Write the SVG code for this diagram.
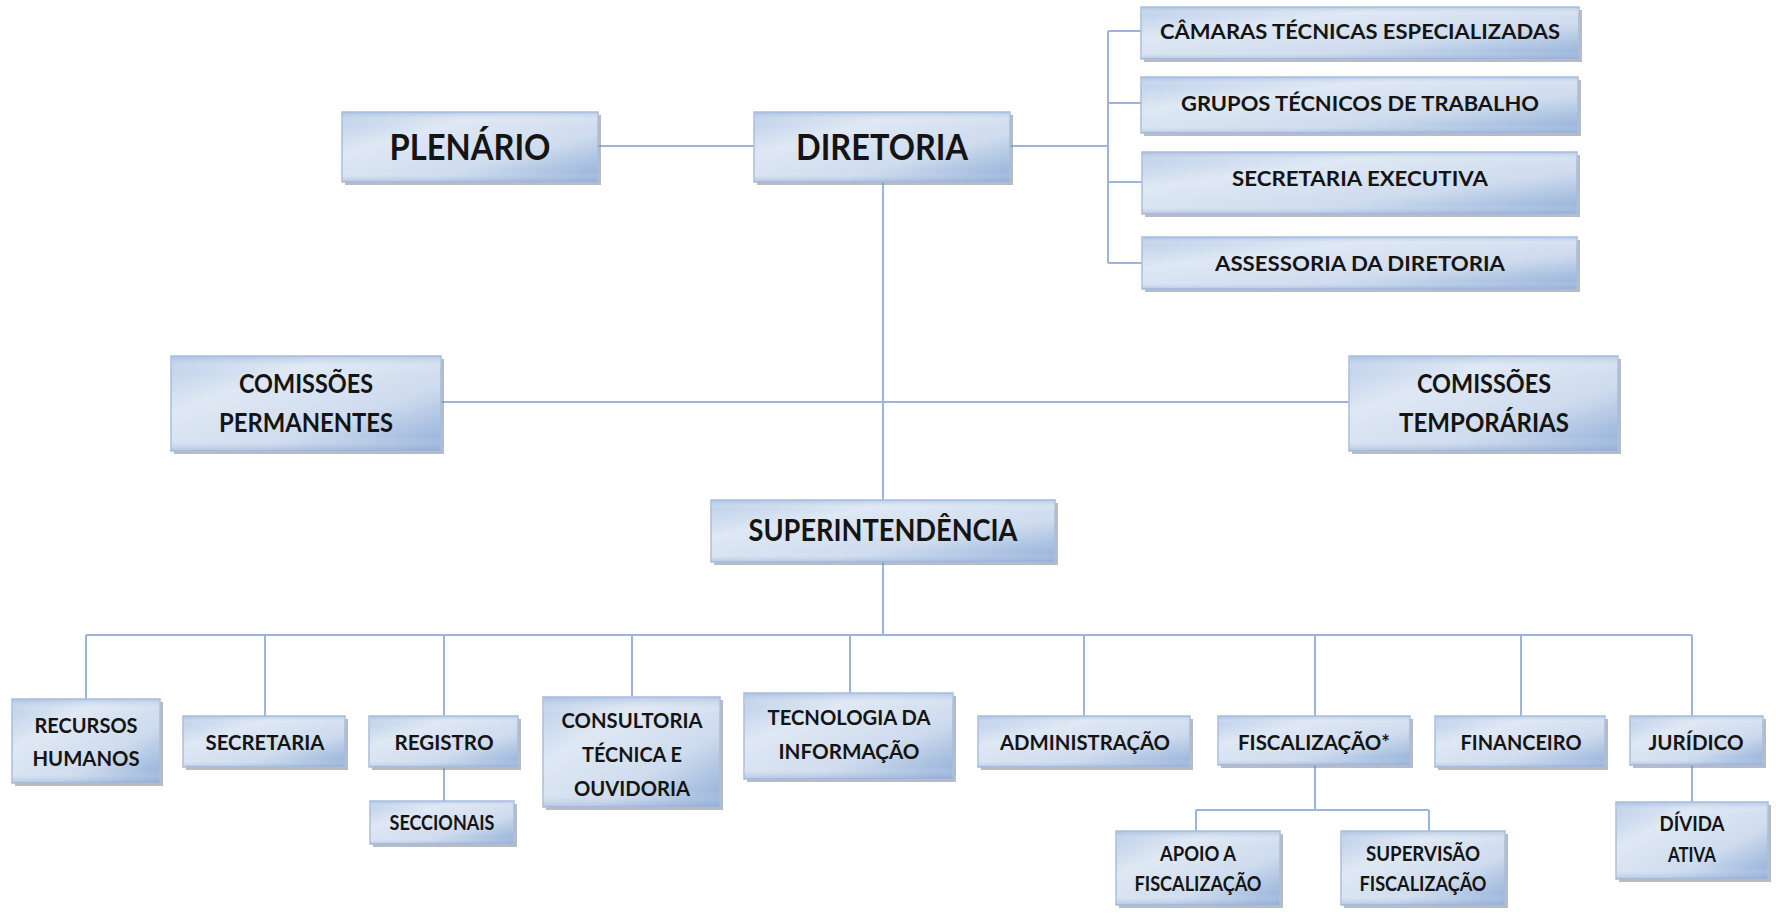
<svg xmlns="http://www.w3.org/2000/svg" width="1776" height="914" viewBox="0 0 1776 914">
<defs>
<linearGradient id="g" x1="0" y1="0" x2="1" y2="1">
<stop offset="0" stop-color="#b9cde8"/>
<stop offset="0.3" stop-color="#dfe8f4"/>
<stop offset="0.65" stop-color="#cfdcee"/>
<stop offset="1" stop-color="#8fadd7"/>
</linearGradient>
<linearGradient id="gv" x1="0" y1="0" x2="0" y2="1">
<stop offset="0" stop-color="#9fb8dc" stop-opacity="0.6"/>
<stop offset="0.15" stop-color="#ffffff" stop-opacity="0"/>
<stop offset="0.85" stop-color="#ffffff" stop-opacity="0"/>
<stop offset="1" stop-color="#8faad4" stop-opacity="0.5"/>
</linearGradient>
</defs>
<style>
.sh{fill:#7d8494;opacity:0.55}
.bx{fill:url(#g);stroke:#a9bedc;stroke-width:1.5}
.ov{fill:url(#gv)}
text{font-family:Lato,"Open Sans","Liberation Sans",sans-serif;font-weight:bold;fill:#141414;text-anchor:middle}
.f36{font-size:36px}
.f30{font-size:30px}
.f26{font-size:26px}
.f21{font-size:21px}
.f20{font-size:20px}
.c{fill:none;stroke:#9db5d8;stroke-width:2}
</style>
<rect width="1776" height="914" fill="#ffffff"/>
<g id="connectors">
<path class="c" d="M598 146H754"/>
<path class="c" d="M1010 146H1108M1108 31V263M1108 31H1141M1108 103H1141M1108 182H1142M1108 263H1142"/>
<path class="c" d="M883 182V500M441 402H1349"/>
<path class="c" d="M883 562V635M86 635H1692"/>
<path class="c" d="M86 635V699M265 635V716M444 635V716M632 635V697M850 635V693M1084 635V716M1315 635V716M1521 635V716M1692 635V716"/>
<path class="c" d="M444 767V801"/>
<path class="c" d="M1315 765V810M1196 810H1429M1196 810V831M1429 810V831"/>
<path class="c" d="M1692 765V802"/>
</g>
<g id="plenario">
<rect class="sh" x="345" y="115" width="256" height="70"/><rect class="bx" x="342" y="112" width="256" height="70"/><rect class="ov" x="342" y="112" width="256" height="70"/>
<text class="f36" x="470" y="160" textLength="161" lengthAdjust="spacingAndGlyphs">PLENÁRIO</text>
</g>
<g id="diretoria">
<rect class="sh" x="757" y="115" width="256" height="70"/><rect class="bx" x="754" y="112" width="256" height="70"/><rect class="ov" x="754" y="112" width="256" height="70"/>
<text class="f36" x="882" y="160" textLength="172" lengthAdjust="spacingAndGlyphs">DIRETORIA</text>
</g>
<g id="camaras">
<rect class="sh" x="1144" y="10" width="438" height="52"/><rect class="bx" x="1141" y="7" width="438" height="52"/><rect class="ov" x="1141" y="7" width="438" height="52"/>
<text class="f20" x="1360" y="39" textLength="400" lengthAdjust="spacingAndGlyphs">CÂMARAS TÉCNICAS ESPECIALIZADAS</text>
</g>
<g id="grupos">
<rect class="sh" x="1144" y="80" width="437" height="56"/><rect class="bx" x="1141" y="77" width="437" height="56"/><rect class="ov" x="1141" y="77" width="437" height="56"/>
<text class="f21" x="1360" y="111" textLength="358" lengthAdjust="spacingAndGlyphs">GRUPOS TÉCNICOS DE TRABALHO</text>
</g>
<g id="secretaria-executiva">
<rect class="sh" x="1145" y="155" width="435" height="62"/><rect class="bx" x="1142" y="152" width="435" height="62"/><rect class="ov" x="1142" y="152" width="435" height="62"/>
<text class="f21" x="1360" y="186" textLength="256" lengthAdjust="spacingAndGlyphs">SECRETARIA EXECUTIVA</text>
</g>
<g id="assessoria">
<rect class="sh" x="1145" y="240" width="435" height="52"/><rect class="bx" x="1142" y="237" width="435" height="52"/><rect class="ov" x="1142" y="237" width="435" height="52"/>
<text class="f21" x="1360" y="271" textLength="290" lengthAdjust="spacingAndGlyphs">ASSESSORIA DA DIRETORIA</text>
</g>
<g id="comissoes-permanentes">
<rect class="sh" x="174" y="359" width="270" height="95"/><rect class="bx" x="171" y="356" width="270" height="95"/><rect class="ov" x="171" y="356" width="270" height="95"/>
<text class="f26" x="306" y="393" textLength="134" lengthAdjust="spacingAndGlyphs">COMISSÕES</text>
<text class="f26" x="306" y="432" textLength="174" lengthAdjust="spacingAndGlyphs">PERMANENTES</text>
</g>
<g id="comissoes-temporarias">
<rect class="sh" x="1352" y="359" width="269" height="95"/><rect class="bx" x="1349" y="356" width="269" height="95"/><rect class="ov" x="1349" y="356" width="269" height="95"/>
<text class="f26" x="1484" y="393" textLength="134" lengthAdjust="spacingAndGlyphs">COMISSÕES</text>
<text class="f26" x="1484" y="432" textLength="170" lengthAdjust="spacingAndGlyphs">TEMPORÁRIAS</text>
</g>
<g id="superintendencia">
<rect class="sh" x="714" y="503" width="344" height="62"/><rect class="bx" x="711" y="500" width="344" height="62"/><rect class="ov" x="711" y="500" width="344" height="62"/>
<text class="f30" x="883" y="541" textLength="269" lengthAdjust="spacingAndGlyphs">SUPERINTENDÊNCIA</text>
</g>
<g id="recursos-humanos">
<rect class="sh" x="15" y="702" width="148" height="84"/><rect class="bx" x="12" y="699" width="148" height="84"/><rect class="ov" x="12" y="699" width="148" height="84"/>
<text class="f20" x="86" y="733" textLength="103" lengthAdjust="spacingAndGlyphs">RECURSOS</text>
<text class="f20" x="86" y="766" textLength="107" lengthAdjust="spacingAndGlyphs">HUMANOS</text>
</g>
<g id="secretaria">
<rect class="sh" x="186" y="719" width="162" height="51"/><rect class="bx" x="183" y="716" width="162" height="51"/><rect class="ov" x="183" y="716" width="162" height="51"/>
<text class="f20" x="265" y="750" textLength="119" lengthAdjust="spacingAndGlyphs">SECRETARIA</text>
</g>
<g id="registro">
<rect class="sh" x="372" y="719" width="149" height="51"/><rect class="bx" x="369" y="716" width="149" height="51"/><rect class="ov" x="369" y="716" width="149" height="51"/>
<text class="f20" x="444" y="750" textLength="99" lengthAdjust="spacingAndGlyphs">REGISTRO</text>
</g>
<g id="seccionais">
<rect class="sh" x="373" y="804" width="144" height="43"/><rect class="bx" x="370" y="801" width="144" height="43"/><rect class="ov" x="370" y="801" width="144" height="43"/>
<text class="f20" x="442" y="830" textLength="105" lengthAdjust="spacingAndGlyphs">SECCIONAIS</text>
</g>
<g id="consultoria">
<rect class="sh" x="546" y="700" width="177" height="110"/><rect class="bx" x="543" y="697" width="177" height="110"/><rect class="ov" x="543" y="697" width="177" height="110"/>
<text class="f20" x="632" y="728" textLength="141" lengthAdjust="spacingAndGlyphs">CONSULTORIA</text>
<text class="f20" x="632" y="762" textLength="100" lengthAdjust="spacingAndGlyphs">TÉCNICA E</text>
<text class="f20" x="632" y="796" textLength="116" lengthAdjust="spacingAndGlyphs">OUVIDORIA</text>
</g>
<g id="tecnologia">
<rect class="sh" x="747" y="696" width="209" height="86"/><rect class="bx" x="744" y="693" width="209" height="86"/><rect class="ov" x="744" y="693" width="209" height="86"/>
<text class="f20" x="849" y="725" textLength="163" lengthAdjust="spacingAndGlyphs">TECNOLOGIA DA</text>
<text class="f20" x="849" y="759" textLength="141" lengthAdjust="spacingAndGlyphs">INFORMAÇÃO</text>
</g>
<g id="administracao">
<rect class="sh" x="981" y="719" width="212" height="51"/><rect class="bx" x="978" y="716" width="212" height="51"/><rect class="ov" x="978" y="716" width="212" height="51"/>
<text class="f20" x="1085" y="750" textLength="170" lengthAdjust="spacingAndGlyphs">ADMINISTRAÇÃO</text>
</g>
<g id="fiscalizacao">
<rect class="sh" x="1221" y="719" width="192" height="49"/><rect class="bx" x="1218" y="716" width="192" height="49"/><rect class="ov" x="1218" y="716" width="192" height="49"/>
<text class="f20" x="1314" y="750" textLength="152" lengthAdjust="spacingAndGlyphs">FISCALIZAÇÃO*</text>
</g>
<g id="financeiro">
<rect class="sh" x="1438" y="719" width="170" height="51"/><rect class="bx" x="1435" y="716" width="170" height="51"/><rect class="ov" x="1435" y="716" width="170" height="51"/>
<text class="f20" x="1521" y="750" textLength="121" lengthAdjust="spacingAndGlyphs">FINANCEIRO</text>
</g>
<g id="juridico">
<rect class="sh" x="1633" y="719" width="133" height="49"/><rect class="bx" x="1630" y="716" width="133" height="49"/><rect class="ov" x="1630" y="716" width="133" height="49"/>
<text class="f20" x="1696" y="750" textLength="95" lengthAdjust="spacingAndGlyphs">JURÍDICO</text>
</g>
<g id="apoio">
<rect class="sh" x="1119" y="834" width="164" height="74"/><rect class="bx" x="1116" y="831" width="164" height="74"/><rect class="ov" x="1116" y="831" width="164" height="74"/>
<text class="f20" x="1198" y="861" textLength="76" lengthAdjust="spacingAndGlyphs">APOIO A</text>
<text class="f20" x="1198" y="891" textLength="127" lengthAdjust="spacingAndGlyphs">FISCALIZAÇÃO</text>
</g>
<g id="supervisao">
<rect class="sh" x="1344" y="834" width="164" height="74"/><rect class="bx" x="1341" y="831" width="164" height="74"/><rect class="ov" x="1341" y="831" width="164" height="74"/>
<text class="f20" x="1423" y="861" textLength="114" lengthAdjust="spacingAndGlyphs">SUPERVISÃO</text>
<text class="f20" x="1423" y="891" textLength="127" lengthAdjust="spacingAndGlyphs">FISCALIZAÇÃO</text>
</g>
<g id="divida-ativa">
<rect class="sh" x="1619" y="805" width="152" height="77"/><rect class="bx" x="1616" y="802" width="152" height="77"/><rect class="ov" x="1616" y="802" width="152" height="77"/>
<text class="f20" x="1692" y="831" textLength="65" lengthAdjust="spacingAndGlyphs">DÍVIDA</text>
<text class="f20" x="1692" y="862" textLength="48" lengthAdjust="spacingAndGlyphs">ATIVA</text>
</g>
</svg>
